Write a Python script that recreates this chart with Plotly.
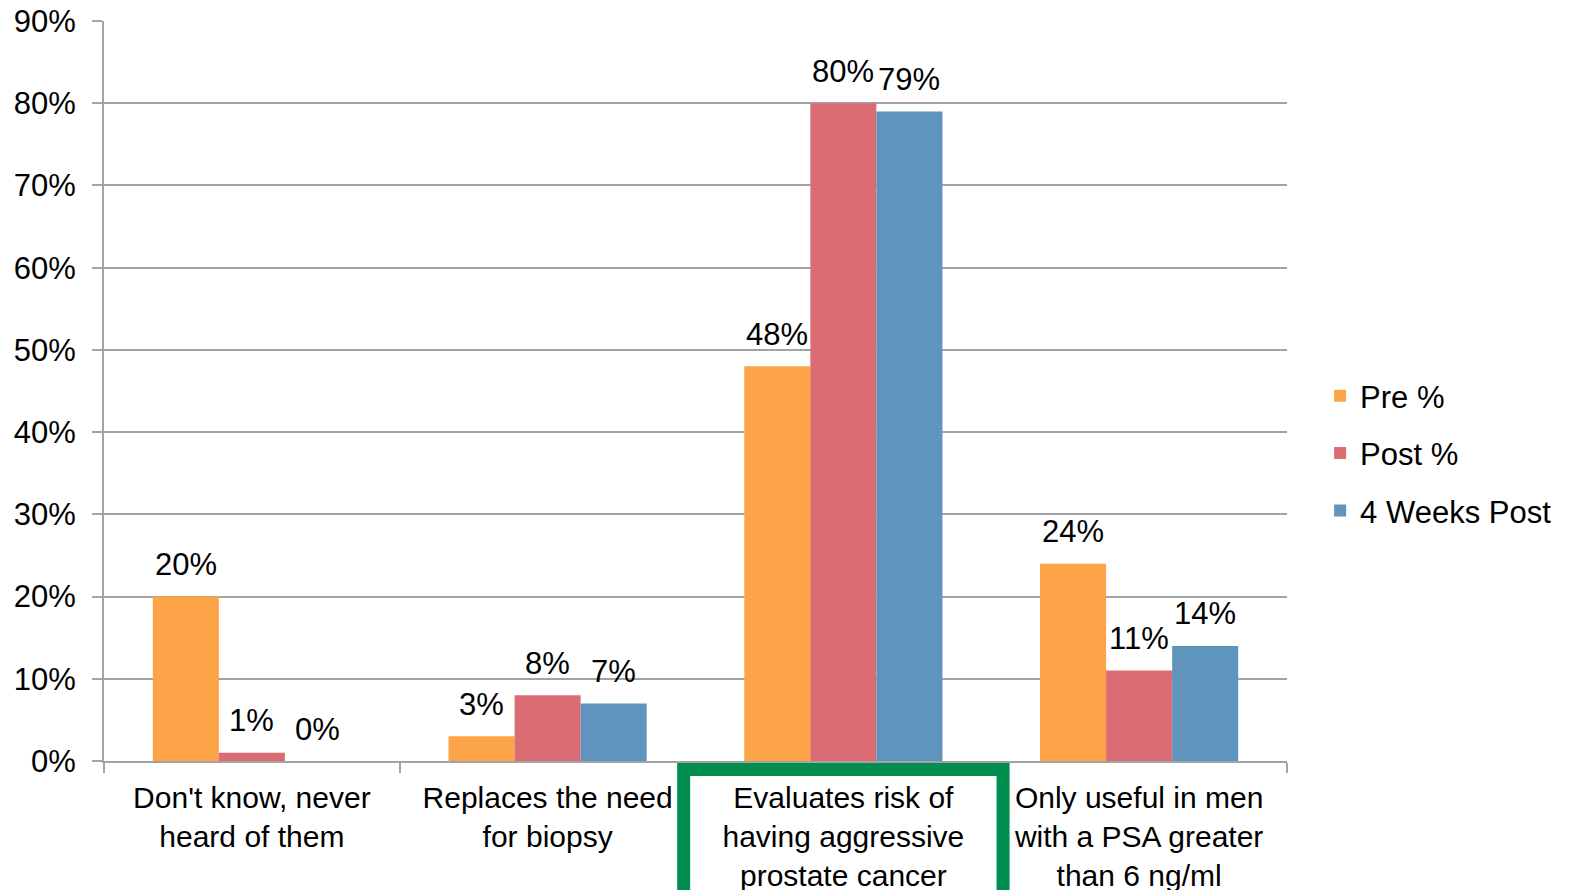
import plotly.graph_objects as go

categories = [
    "Don't know, never<br>heard of them",
    "Replaces the need<br>for biopsy",
    "Evaluates risk of<br>having aggressive<br>prostate cancer",
    "Only useful in men<br>with a PSA greater<br>than 6 ng/ml",
]
pre = [0.20, 0.03, 0.48, 0.24]
post = [0.01, 0.08, 0.80, 0.11]
weeks4 = [0.00, 0.07, 0.79, 0.14]
series_names = ["Pre %", "Post %", "4 Weeks Post"]
colors = ["#FDA448", "#DB6C74", "#5F95BC"]
y_ticks = [0, 0.1, 0.2, 0.3, 0.4, 0.5, 0.6, 0.7, 0.8, 0.9]

FONT = "Liberation Sans, Arial, sans-serif"
GRID = "#A3A3A3"
W, H = 1579, 890
ML, MR, MT, MB = 104, 292, 21, 129
BARGAP = 0.33

fig = go.Figure()
for name, vals, col in zip(series_names, [pre, post, weeks4], colors):
    fig.add_trace(go.Bar(
        x=categories, y=vals, name=name,
        marker=dict(color=col, line=dict(width=0)),
        legendgroup=name,
    ))

# data labels above each bar
cat_px = (W - ML - MR) / len(categories)
bar_px = cat_px * (1 - BARGAP) / len(series_names)
for j, vals in enumerate([pre, post, weeks4]):
    for cat, v in zip(categories, vals):
        fig.add_annotation(
            x=cat, y=v, xref="x", yref="y",
            text=f"{round(v*100)}%", showarrow=False,
            xshift=(j - (len(series_names) - 1) / 2) * bar_px,
            yshift=32, yanchor="middle", xanchor="center",
            font=dict(size=31, family=FONT, color="#000000"),
        )

fig.update_layout(
    width=W, height=H,
    margin=dict(l=ML, r=MR, t=MT, b=MB, autoexpand=False),
    paper_bgcolor="white", plot_bgcolor="white",
    barmode="group", bargap=BARGAP, bargroupgap=0,
    font=dict(family=FONT, size=31, color="#000000"),
    showlegend=True,
    legend=dict(x=1.028, xanchor="left", y=0.416, yanchor="middle",
                font=dict(size=31, family=FONT), traceorder="grouped",
                tracegroupgap=14, itemwidth=30),
)
fig.update_xaxes(
    automargin=False,
    showgrid=False, showline=True, linecolor=GRID, linewidth=2,
    ticks="outside", tickson="boundaries", ticklen=10, tickcolor=GRID, tickwidth=2,
    tickfont=dict(size=30, family=FONT), ticklabelstandoff=9,
)
fig.update_yaxes(
    automargin=False,
    range=[0, 0.9], tickvals=y_ticks, tickformat=".0%",
    showgrid=True, gridcolor=GRID, gridwidth=2,
    showline=True, linecolor=GRID, linewidth=2,
    ticks="outside", ticklen=10, tickcolor=GRID, tickwidth=2,
    tickfont=dict(size=31, family=FONT), zeroline=False, ticklabelstandoff=10,
)
fig.add_shape(type="rect", xref="x", yref="paper",
              x0=1.46, x1=2.54, y0=-0.3, y1=-0.0115,
              line=dict(color="#008F4E", width=13), fillcolor="rgba(0,0,0,0)",
              layer="above")
fig.write_html("out.html")
